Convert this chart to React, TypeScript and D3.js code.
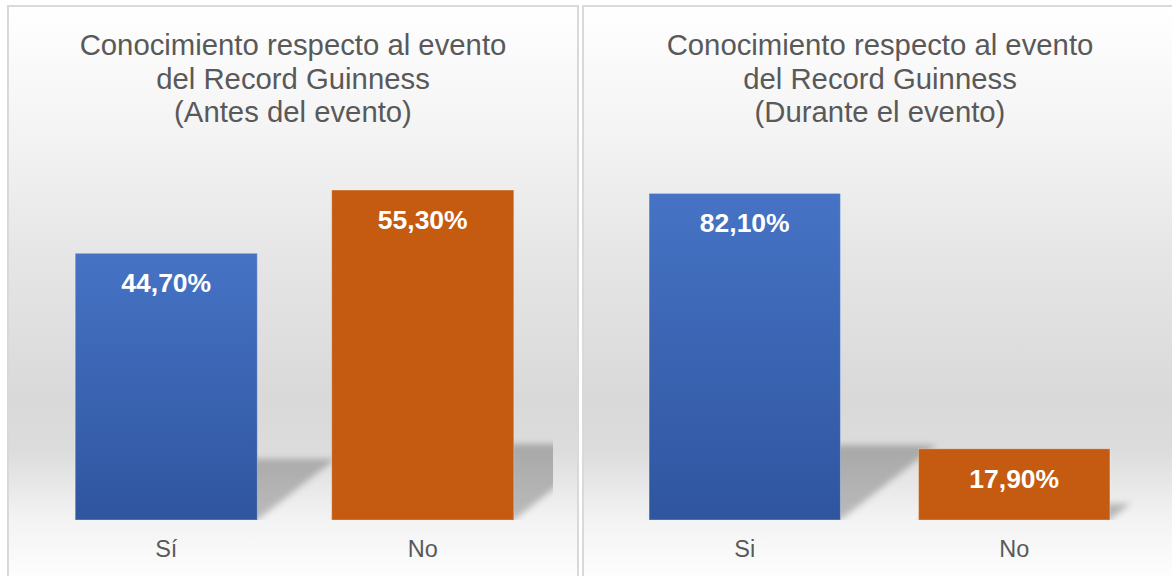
import React from 'react';
import * as d3 from 'd3';

// Values
const categoriesAntes = ['Sí', 'No'];
const valuesAntes = [44.7, 55.3];
const categoriesDurante = ['Si', 'No'];
const valuesDurante = [82.1, 17.9];
const titleAntes = ['Conocimiento respecto al evento', 'del Record Guinness', '(Antes del evento)'];
const titleDurante = ['Conocimiento respecto al evento', 'del Record Guinness', '(Durante el evento)'];
const axisMaxAntes = 60;
const axisMaxDurante = 90;

const W = 1172;
const H = 576;
const FONT = '"Liberation Sans", Arial, sans-serif';
const BLUE_TOP = '#4673c5';
const BLUE_BOTTOM = '#2f559f';
const ORANGE = '#c55a11';
const TEXT_GRAY = '#595959';

interface PanelProps {
  id: string;
  x: number;
  width: number;
  plotX: [number, number];
  categories: string[];
  values: number[];
  axisMax: number;
  title: string[];
}

const fmt = (v: number) => v.toFixed(2).replace('.', ',') + '%';

const Panel: React.FC<PanelProps> = ({ id, x, width, plotX, categories, values, axisMax, title }) => {
  const plotTop = 162;
  const plotBottom = 520;

  const xScale = d3.scaleBand<string>()
    .domain(categories)
    .range(plotX)
    .paddingInner(0.29)
    .paddingOuter(0.145);

  const yScale = d3.scaleLinear()
    .domain([0, axisMax])
    .range([plotBottom, plotTop]);

  const bw = xScale.bandwidth();
  const cx = x + width / 2;

  // perspective shadow: squashed bar skewed toward upper right
  const shadowPath = (cat: string, v: number) => {
    const x0 = xScale(cat)!;
    const x1 = x0 + bw;
    const h = (plotBottom - yScale(v)) * 0.23;
    const d = h * 1.28;
    const p = d3.path();
    p.moveTo(x0, plotBottom);
    p.lineTo(x1, plotBottom);
    p.lineTo(x1 + d, plotBottom - h);
    p.lineTo(x0 + d, plotBottom - h);
    p.closePath();
    return p.toString();
  };

  return (
    <g>
      <defs>
        <clipPath id={`clip-${id}`}>
          <rect x={plotX[0]} y={0} width={plotX[1] - plotX[0] + 2} height={plotBottom} />
        </clipPath>
      </defs>
      <rect x={x} y={6} width={width} height={H} fill="url(#panelBg)" stroke="#d9d9d9" strokeWidth={2} />

      {title.map((line, i) => (
        <text key={i} x={cx} y={55 + i * 33.5} textAnchor="middle" fontFamily={FONT}
          fontSize={29.3} fill={TEXT_GRAY}>{line}</text>
      ))}

      <g clipPath={`url(#clip-${id})`}>
        {categories.map((c, i) => (
          <path key={c} d={shadowPath(c, values[i])} fill="#000" fillOpacity={0.23} filter="url(#shadowBlur)" />
        ))}
      </g>

      {categories.map((c, i) => (
        <rect key={c} x={xScale(c)} y={yScale(values[i])} width={bw}
          height={plotBottom - yScale(values[i])}
          fill={i === 0 ? 'url(#blueGrad)' : ORANGE}
          stroke="#ffffff" strokeOpacity={0.3} strokeWidth={1} />
      ))}

      {categories.map((c, i) => (
        <text key={c} x={xScale(c)! + bw / 2} y={yScale(values[i]) + 39} textAnchor="middle"
          fontFamily={FONT} fontWeight="bold" fontSize={26.5} fill="#ffffff">{fmt(values[i])}</text>
      ))}

      {categories.map((c) => (
        <text key={c} x={xScale(c)! + bw / 2} y={556.5} textAnchor="middle"
          fontFamily={FONT} fontSize={23.5} fill={TEXT_GRAY}>{c}</text>
      ))}
    </g>
  );
};

export default function App() {
  return (
    <svg width={W} height={H} style={{ position: 'absolute', left: 0, top: 0, display: 'block' }}>
      <defs>
        <linearGradient id="panelBg" gradientUnits="userSpaceOnUse" x1={0} y1={6} x2={0} y2={576}>
          <stop offset={0} stopColor="#ffffff" />
          <stop offset={0.235} stopColor="#f3f3f3" />
          <stop offset={0.43} stopColor="#e6e6e6" />
          <stop offset={0.69} stopColor="#d9d9d9" />
          <stop offset={0.78} stopColor="#dcdcdc" />
          <stop offset={0.9} stopColor="#f3f3f3" />
          <stop offset={1} stopColor="#fdfdfd" />
        </linearGradient>
        <linearGradient id="blueGrad" x1={0} y1={0} x2={0} y2={1}>
          <stop offset={0} stopColor={BLUE_TOP} />
          <stop offset={1} stopColor={BLUE_BOTTOM} />
        </linearGradient>
        <filter id="shadowBlur" x="-20%" y="-50%" width="140%" height="200%">
          <feGaussianBlur stdDeviation={3} />
        </filter>
      </defs>
      <rect width={W} height={H} fill="#ffffff" />
      <Panel id="antes" x={8} width={570} plotX={[38, 551]}
        categories={categoriesAntes} values={valuesAntes} axisMax={axisMaxAntes} title={titleAntes} />
      <Panel id="durante" x={583} width={594} plotX={[610, 1149]}
        categories={categoriesDurante} values={valuesDurante} axisMax={axisMaxDurante} title={titleDurante} />
    </svg>
  );
}
